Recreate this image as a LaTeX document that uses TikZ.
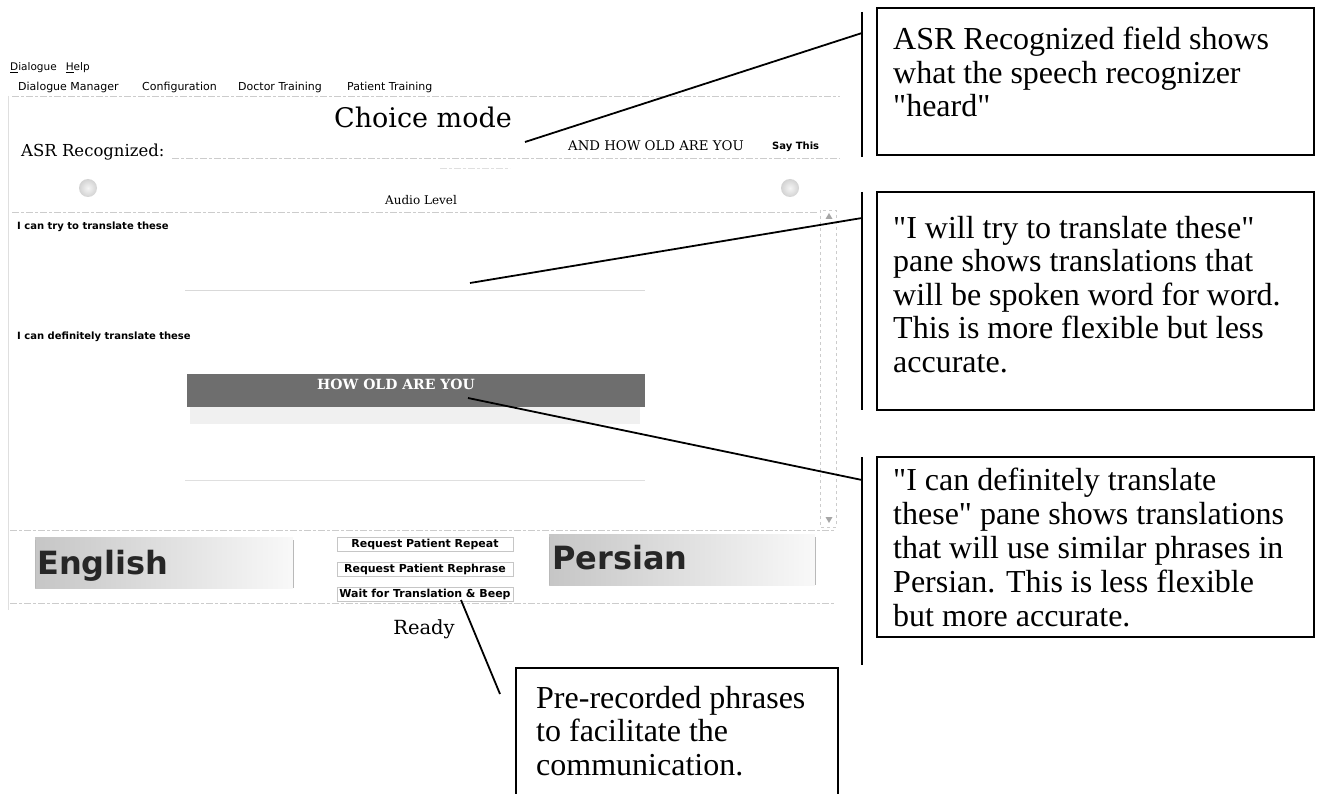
\documentclass[tikz,border=0pt]{standalone}
\usepackage{fontspec}
\setmainfont{Liberation Serif}
\newfontfamily\guiserif{DejaVu Serif}
\newfontfamily\guisans{DejaVu Sans}
\tikzset{
  callout/.style={draw=black, line width=1.4pt},
  calltext/.style={anchor=north west, inner sep=0pt, align=left, font=\fontsize{32}{33.5}\selectfont},
  leader/.style={draw=black, line width=1.8pt},
  sidebar/.style={draw=black, line width=1.5pt},
  faintline/.style={draw=gray!40, line width=0.7pt, dash pattern=on 7pt off 2pt on 3pt off 2pt},
  guitext/.style={inner sep=0pt, anchor=base west, font=\guisans\fontsize{11}{13}\selectfont},
  guibold/.style={inner sep=0pt, anchor=base west, font=\guisans\bfseries\fontsize{10}{11}\selectfont},
  guiserif/.style={inner sep=0pt, font=\guiserif\fontsize{#1}{#1}\selectfont},
  btn/.style={draw=gray!45, line width=0.5pt, inner xsep=2pt, inner ysep=1.5pt, font=\guisans\bfseries\fontsize{11}{12}\selectfont, minimum width=176pt},
  bigsans/.style={inner sep=0pt, anchor=base west, text=black!85, font=\guisans\bfseries\fontsize{32}{34}\selectfont}
}
\begin{document}
\begin{tikzpicture}[x=1pt,y=-1pt]
\useasboundingbox[fill=white] (0,0) rectangle (1317,794);

% ---------- GUI screenshot ----------
\draw[gray!25, line width=0.6pt] (8,96) -- (8,610);
\node[guitext, font=\guisans\fontsize{10.5}{12}\selectfont] (menu) at (10,71) {\underline{D}ialogue\hspace{9pt}\underline{H}elp};
\node[guitext] (tabA) at (18,91) {Dialogue Manager};
\node[guitext] (tabB) at (142,91) {Configuration};
\node[guitext] (tabC) at (238,91) {Doctor Training};
\node[guitext] (tabD) at (347,91) {Patient Training};
\draw[faintline] (12,96) -- (840,96);

\node[guiserif=27, anchor=base] (mode) at (423,128) {Choice mode};
\node[guiserif=16.5, anchor=base west] (asr) at (21,157) {ASR Recognized:};
\draw[faintline] (172,158) -- (840,158);
\draw[faintline, draw=gray!25] (440,168) -- (510,168);
\node[guiserif=13.3, anchor=base west] (heard) at (568,151) {AND HOW OLD ARE YOU};
\node[guibold, font=\guisans\bfseries\fontsize{10}{11}\selectfont] (say) at (772,150) {Say This};

\shade[inner color=gray!8, outer color=gray!35] (88,188) circle (9);
\shade[inner color=gray!8, outer color=gray!35] (790,188) circle (9);
\node[guiserif=12, anchor=base] (audio) at (421,205) {Audio Level};

% list pane
\draw[faintline] (12,212) -- (818,212);
\draw[gray!40, line width=0.5pt, dashed] (820,210) rectangle (836,527);
\fill[gray!70] (825.5,219) -- (832.5,219) -- (829,213) -- cycle;
\fill[gray!70] (825.5,517) -- (832.5,517) -- (829,523) -- cycle;
\node[guibold] (tryl) at (17,230) {I can try to translate these};
\draw[gray!30, line width=0.6pt] (185,290) -- (645,290);
\node[guibold] (defl) at (17,339) {I can definitely translate these};
\fill[gray!12] (190,407) rectangle (640,424);
\fill[black!57] (187,374) rectangle (645,407);
\node[anchor=base, inner sep=0pt, text=white, font=\guiserif\bfseries\fontsize{14}{14}\selectfont] (sel) at (396,389) {HOW OLD ARE YOU};
\draw[gray!25, line width=0.6pt] (185,480) -- (645,480);

% bottom panel
\draw[faintline] (10,530) -- (835,530);
\shade[left color=gray!45, right color=gray!5] (35,537) rectangle (293,588);
\draw[gray!55, line width=0.5pt] (35,540) -- (35,588) (293,540) -- (293,588);
\node[bigsans] (eng) at (37,574) {English};
\node[btn] (b1) at (425,544) {Request Patient Repeat};
\node[btn] (b2) at (425,569) {Request Patient Rephrase};
\node[btn] (b3) at (425,594) {Wait for Translation \& Beep};
\shade[left color=gray!45, right color=gray!5] (549,534) rectangle (815,585);
\draw[gray!55, line width=0.5pt] (549,537) -- (549,585) (815,537) -- (815,585);
\node[bigsans] (per) at (552,569) {Persian};
\draw[faintline] (10,603) -- (835,603);
\node[guiserif=19.5, anchor=base] (ready) at (424,634) {Ready};

% ---------- callouts ----------
\draw[callout] (877,8) rectangle (1314,155);
\draw[sidebar] (862,12) -- (862,157);
\node[calltext] (t1) at (893,27) {ASR Recognized field shows\\what the speech recognizer\\\textquotedbl heard\textquotedbl};

\draw[callout] (877,192) rectangle (1314,410);
\draw[sidebar] (862,192) -- (862,410);
\node[calltext] (t2) at (893,216) {\textquotedbl I will try to translate these\textquotedbl\\pane shows translations that\\will be spoken word for word.\\This is more flexible but less\\accurate.};

\draw[callout] (877,457) rectangle (1314,637);
\draw[sidebar] (862,457) -- (862,665);
\node[calltext, font=\fontsize{32}{34}\selectfont] (t3) at (893,468) {\textquotedbl I can definitely translate\\these\textquotedbl{} pane shows translations\\that will use similar phrases in\\Persian. This is less flexible\\but more accurate.};

\draw[callout] (516,668) rectangle (838,800);
\node[calltext] (t4) at (536,686) {Pre-recorded phrases\\to facilitate the\\communication.};

% ---------- leader lines ----------
\coordinate (p1) at (525,142); \coordinate (q1) at (862,33);
\coordinate (p2) at (470,283); \coordinate (q2) at (862,218);
\coordinate (p3) at (468,398); \coordinate (q3) at (862,480);
\coordinate (p4) at (461,600); \coordinate (q4) at (500,694);
\draw[leader] (p1) -- (q1);
\draw[leader] (p2) -- (q2);
\draw[leader] (p3) -- (q3);
\draw[leader] (p4) -- (q4);
\end{tikzpicture}
\end{document}
